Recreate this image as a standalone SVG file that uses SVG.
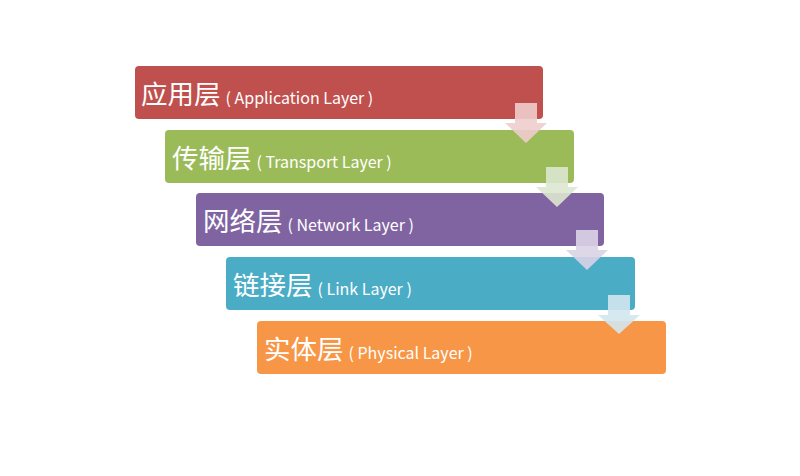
<svg xmlns="http://www.w3.org/2000/svg" width="800" height="476" viewBox="0 0 800 476">
<style>
.box{stroke:none}
.zh{font-family:"Noto Sans CJK SC","Noto Sans",sans-serif;font-size:26.5px;fill:#ffffff}
.en{font-family:"Noto Sans CJK SC","Noto Sans",sans-serif;font-size:16px;fill:#ffffff}
.arr{stroke:none;opacity:0.9}
</style>
<rect width="800" height="476" fill="#ffffff"/>
<g id="app">
<rect class="box" x="135" y="66" width="408" height="53" rx="4" fill="#C0504D"/>
<text x="141" y="104"><tspan class="zh">应用层</tspan><tspan class="en" dx="5">( Application Layer )</tspan></text>
</g>
<g id="transport">
<rect class="box" x="165" y="130" width="409" height="53" rx="4" fill="#9BBB59"/>
<text x="172" y="168"><tspan class="zh">传输层</tspan><tspan class="en" dx="5">( Transport Layer )</tspan></text>
</g>
<g id="network">
<rect class="box" x="196" y="193" width="408" height="53" rx="4" fill="#8064A2"/>
<text x="203" y="231"><tspan class="zh">网络层</tspan><tspan class="en" dx="5">( Network Layer )</tspan></text>
</g>
<g id="link">
<rect class="box" x="226" y="257" width="409" height="53" rx="4" fill="#4BACC6"/>
<text x="233" y="295"><tspan class="zh">链接层</tspan><tspan class="en" dx="5">( Link Layer )</tspan></text>
</g>
<g id="physical">
<rect class="box" x="257" y="321" width="409" height="53" rx="4" fill="#F79646"/>
<text x="264" y="359"><tspan class="zh">实体层</tspan><tspan class="en" dx="5">( Physical Layer )</tspan></text>
</g>
<g id="connectors">
<path class="arr" fill="#EFCDCD" d="M515,103 H537 V123 H547 L526,143 L505,123 H515 Z"/>
<path class="arr" fill="#DCE7CF" d="M546,167 H568 V187 H578 L557,207 L536,187 H546 Z"/>
<path class="arr" fill="#DAD3E6" d="M576,230 H598 V250 H608 L587,270 L566,250 H576 Z"/>
<path class="arr" fill="#D2E7EE" d="M608,295 H630 V315 H640 L619,334 L598,315 H608 Z"/>
</g>
</svg>
